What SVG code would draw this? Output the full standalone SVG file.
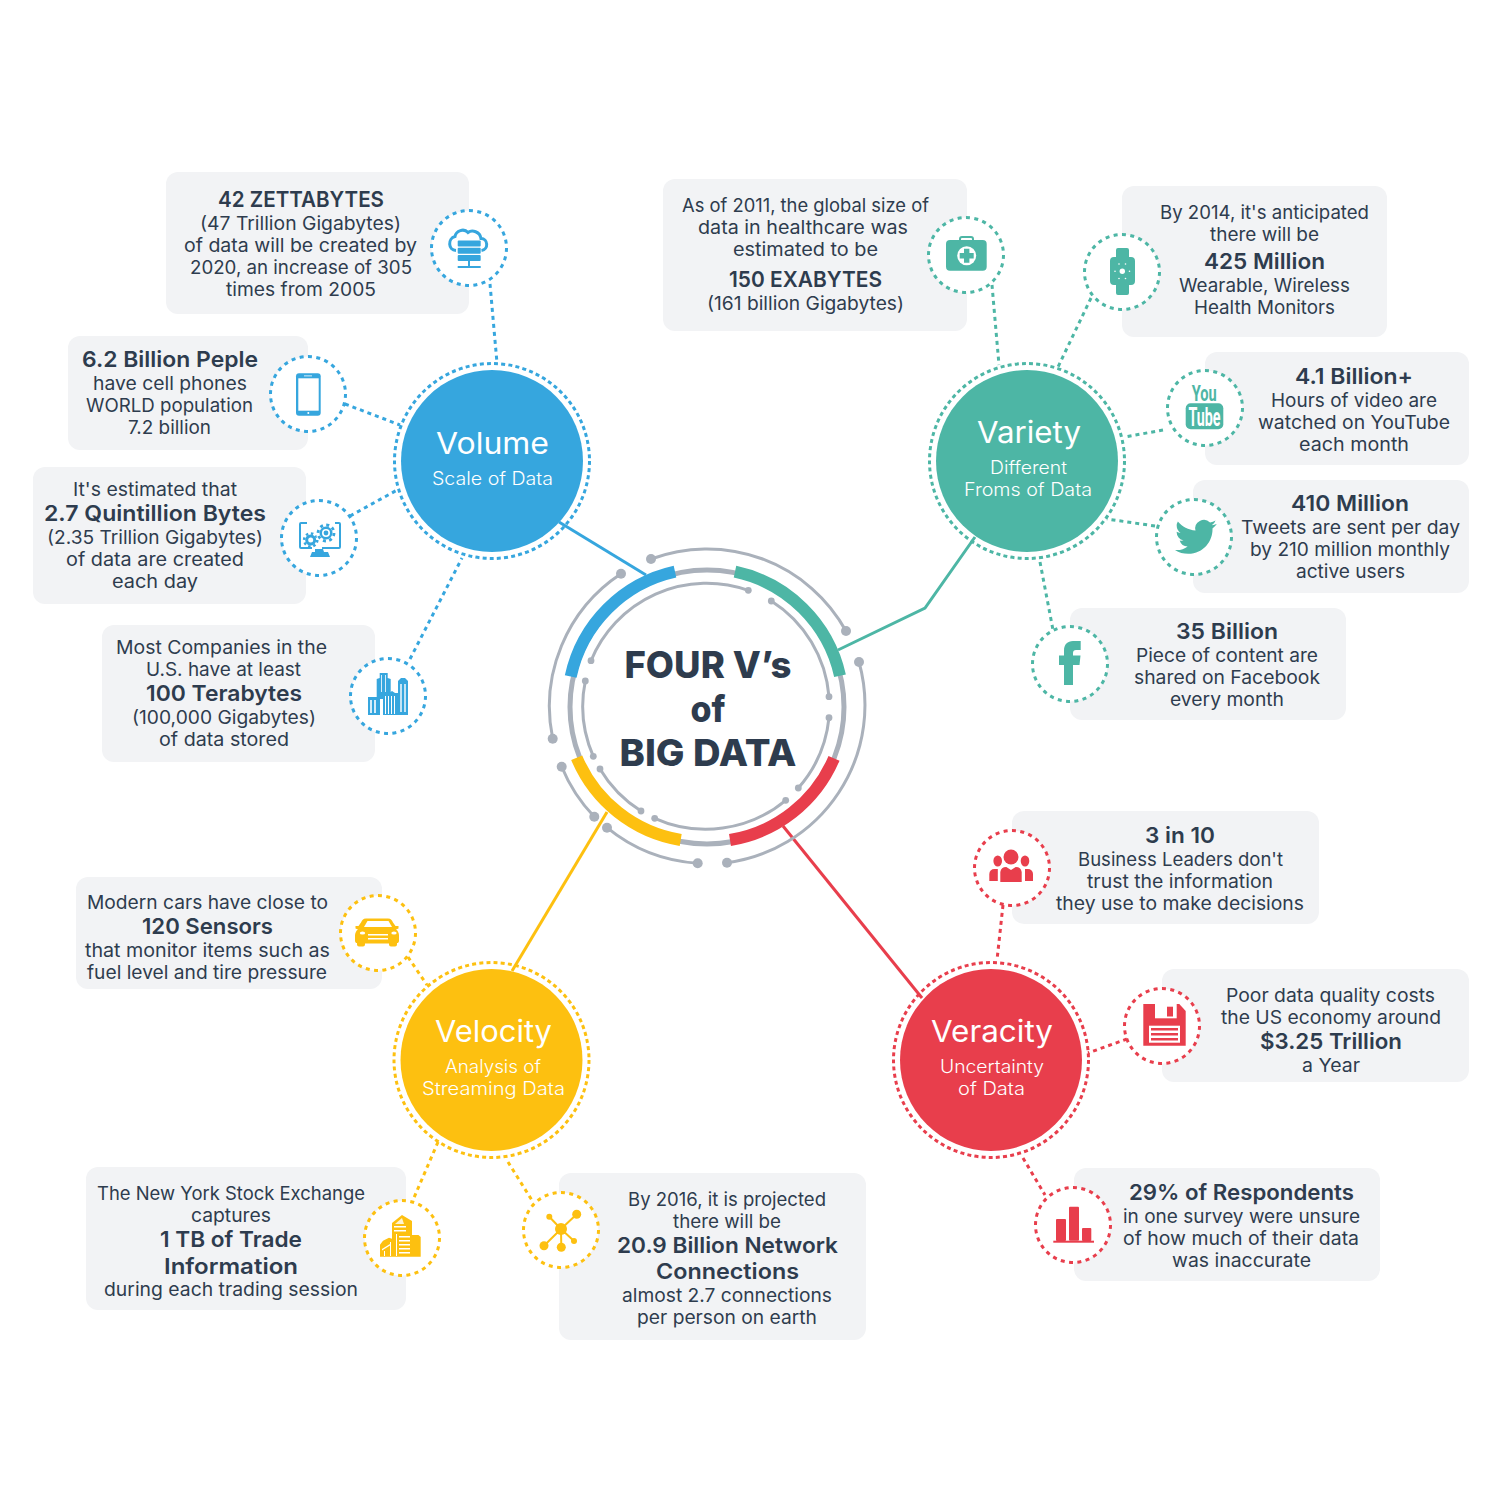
<svg xmlns="http://www.w3.org/2000/svg" width="1501" height="1500" viewBox="0 0 1501 1500">
<style>
text{font-family:"Inter","Noto Sans","Liberation Sans",sans-serif;text-anchor:middle;fill:#2e3c4e;font-size:18.5px}
.b{font-weight:600;font-size:22px}
.t{fill:#fff;font-size:30px;font-weight:400}
.s{fill:#fff;font-size:18px;font-weight:350}
.c{font-size:37px;font-weight:800}
.box{fill:#f2f3f5}
.arc{fill:none;stroke:#aab1bb;stroke-width:3}
.dot{fill:#aab1bb}
.ic{fill:#fff;stroke-width:3;stroke-dasharray:4 4.4}
.rg{fill:none;stroke-width:3;stroke-dasharray:4 3.2}
.dc{stroke-width:3;stroke-dasharray:4 4;fill:none}
.sl{stroke-width:3;fill:none}
.blue{stroke:#36a6de}.teal{stroke:#4db6a5}.yel{stroke:#fdc010}.red{stroke:#e83e4c}
.fb{fill:#36a6de}.ft{fill:#4db6a5}.fy{fill:#fdc010}.fr{fill:#e83e4c}
.w{fill:#fff}
</style>
<g id="connectors">
<path class="sl blue" d="M559 522L646 575"/>
<path class="sl teal" d="M975 537L925 608L838 650"/>
<path class="sl red" d="M783 826L922 998"/>
<path class="sl yel" d="M607 812L512 971"/>
<path class="dc blue" d="M490 284L497 363"/>
<path class="dc blue" d="M345 404L400 425"/>
<path class="dc blue" d="M350 516L399 489"/>
<path class="dc blue" d="M410 659L462 558"/>
<path class="dc teal" d="M992 285L999 365"/>
<path class="dc teal" d="M1091 298L1058 367"/>
<path class="dc teal" d="M1163 430L1125 437"/>
<path class="dc teal" d="M1155 526L1107 519"/>
<path class="dc teal" d="M1040 562L1053 630"/>
<path class="dc yel" d="M408 957L427 985"/>
<path class="dc yel" d="M438 1142L413 1200"/>
<path class="dc yel" d="M508 1162L533 1202"/>
<path class="dc red" d="M1003 905L997 960"/>
<path class="dc red" d="M1127 1039L1088 1053"/>
<path class="dc red" d="M1023 1158L1045 1195"/>
</g>
<g id="center">
<circle cx="707" cy="707" r="137" fill="none" stroke="#aab1bb" stroke-width="5"/>
<path class="arc" d="M651 559A159 159 0 0 1 846 631M859 662A159 159 0 0 1 727 862.7M697.7 863.3A159 159 0 0 1 607 827.7M594.3 816.7A159 159 0 0 1 561.7 766.7M552.7 738.7A159 159 0 0 1 621 573.7M591 660.7A125 125 0 0 1 748.3 590.3M771.3 601A125 125 0 0 1 829 696.7M829 717.7A125 125 0 0 1 798.3 788M785.7 800.3A125 125 0 0 1 654.7 818.3M641 811A125 125 0 0 1 600 769M593.3 756.3A125 125 0 0 1 585.3 681"/>
<g class="dot"><circle cx="651" cy="559" r="5"/><circle cx="846" cy="631" r="5"/><circle cx="859" cy="662" r="5"/><circle cx="727" cy="862.7" r="5"/><circle cx="697.7" cy="863.3" r="5"/><circle cx="607" cy="827.7" r="5"/><circle cx="594.3" cy="816.7" r="5"/><circle cx="561.7" cy="766.7" r="5"/><circle cx="552.7" cy="738.7" r="5"/><circle cx="621" cy="573.7" r="5"/>
<circle cx="591" cy="660.7" r="3.4"/><circle cx="748.3" cy="590.3" r="3.4"/><circle cx="771.3" cy="601" r="3.4"/><circle cx="829" cy="696.7" r="3.4"/><circle cx="829" cy="717.7" r="3.4"/><circle cx="798.3" cy="788" r="3.4"/><circle cx="785.7" cy="800.3" r="3.4"/><circle cx="654.7" cy="818.3" r="3.4"/><circle cx="641" cy="811" r="3.4"/><circle cx="600" cy="769" r="3.4"/><circle cx="593.3" cy="756.3" r="3.4"/><circle cx="585.3" cy="681" r="3.4"/></g>
<g fill="none" stroke-width="12">
<path stroke="#36a6de" d="M570.7 676.5A137 137 0 0 1 675 571.7"/>
<path stroke="#4db6a5" d="M735 571.7A137 137 0 0 1 840 675.7"/>
<path stroke="#e83e4c" d="M834 758.3A137 137 0 0 1 730 840"/>
<path stroke="#fdc010" d="M680.7 840A137 137 0 0 1 576.7 757.7"/>
</g>
<text class="c" x="708" y="678" textLength="167" lengthAdjust="spacingAndGlyphs">FOUR V’s</text>
<text class="c" x="708" y="722" textLength="35" lengthAdjust="spacingAndGlyphs">of</text>
<text class="c" x="708" y="766" textLength="177" lengthAdjust="spacingAndGlyphs">BIG DATA</text>
</g>
<g id="volume">
<circle cx="492" cy="461" r="91" class="fb"/><circle cx="492" cy="461" r="97.500" class="rg blue"/>
<text class="t" x="492.500" y="454" textLength="113" lengthAdjust="spacingAndGlyphs">Volume</text>
<text class="s" x="492.500" y="485" textLength="121" lengthAdjust="spacingAndGlyphs">Scale of Data</text>
</g>
<g id="variety">
<circle cx="1027" cy="461" r="91" class="ft"/><circle cx="1027" cy="461" r="97.500" class="rg teal"/>
<text class="t" x="1029" y="443" textLength="104" lengthAdjust="spacingAndGlyphs">Variety</text>
<text class="s" x="1028.500" y="474" textLength="77" lengthAdjust="spacingAndGlyphs">Different</text>
<text class="s" x="1028" y="496" textLength="128" lengthAdjust="spacingAndGlyphs">Froms of Data</text>
</g>
<g id="velocity">
<circle cx="491.500" cy="1060" r="91" class="fy"/><circle cx="491.500" cy="1060" r="97.500" class="rg yel"/>
<text class="t" x="493.500" y="1042" textLength="117" lengthAdjust="spacingAndGlyphs">Velocity</text>
<text class="s" x="493" y="1073" textLength="96" lengthAdjust="spacingAndGlyphs">Analysis of</text>
<text class="s" x="493.500" y="1095" textLength="143" lengthAdjust="spacingAndGlyphs">Streaming Data</text>
</g>
<g id="veracity">
<circle cx="991" cy="1060" r="91" class="fr"/><circle cx="991" cy="1060" r="97.500" class="rg red"/>
<text class="t" x="992" y="1042" textLength="122" lengthAdjust="spacingAndGlyphs">Veracity</text>
<text class="s" x="992" y="1073" textLength="104" lengthAdjust="spacingAndGlyphs">Uncertainty</text>
<text class="s" x="991.500" y="1095" textLength="67" lengthAdjust="spacingAndGlyphs">of Data</text>
</g>
<g id="n-zettabytes">
<rect class="box" x="166" y="172" width="303" height="142" rx="12"/>
<text class="b" x="301" y="207" textLength="166" lengthAdjust="spacingAndGlyphs">42 ZETTABYTES</text>
<text x="300.500" y="229.500" textLength="201" lengthAdjust="spacingAndGlyphs">(47 Trillion Gigabytes)</text>
<text x="300.500" y="251.500" textLength="233" lengthAdjust="spacingAndGlyphs">of data will be created by</text>
<text x="301" y="273.500" textLength="222" lengthAdjust="spacingAndGlyphs">2020, an increase of 305</text>
<text x="301" y="295.500" textLength="150" lengthAdjust="spacingAndGlyphs">times from 2005</text>
<circle class="ic blue" cx="469" cy="248" r="37.500"/>
<path d="M456 250.500c-8-.5-8.500-12-1-14 1-6 9-8.500 13-4 4-3 12-1 13 6 7 0 8 11 .5 12" fill="none" stroke="#36a6de" stroke-width="3"/>
<g class="fb"><rect x="457.700" y="240.500" width="23" height="6" rx="1"/><rect x="457.700" y="247.800" width="23" height="6" rx="1"/><rect x="457.700" y="255" width="23" height="6" rx="1"/><rect x="468" y="261" width="2" height="5"/><rect x="457.700" y="266" width="23" height="2"/></g>
</g>
<g id="n-phones">
<rect class="box" x="68" y="336" width="240" height="114" rx="12"/>
<text class="b" x="170" y="367" textLength="176" lengthAdjust="spacingAndGlyphs">6.2 Billion Peple</text>
<text x="170" y="389.500" textLength="154" lengthAdjust="spacingAndGlyphs">have cell phones</text>
<text x="169.500" y="411.500" textLength="167" lengthAdjust="spacingAndGlyphs">WORLD population</text>
<text x="169.500" y="433.500" textLength="83" lengthAdjust="spacingAndGlyphs">7.2 billion</text>
<circle class="ic blue" cx="308" cy="394" r="37.500"/>
<rect class="fb" x="296" y="373.300" width="24.700" height="42.400" rx="3"/><rect class="w" x="298.300" y="378.300" width="20.400" height="32.400"/><rect class="w" x="304" y="375.500" width="8" height="0.800"/><circle class="w" cx="308.300" cy="413" r="1"/>
</g>
<g id="n-quintillion">
<rect class="box" x="33" y="467" width="273" height="137" rx="12"/>
<text x="155" y="495.500" textLength="164" lengthAdjust="spacingAndGlyphs">It's estimated that</text>
<text class="b" x="155" y="521" textLength="222" lengthAdjust="spacingAndGlyphs">2.7 Quintillion Bytes</text>
<text x="155" y="543.500" textLength="216" lengthAdjust="spacingAndGlyphs">(2.35 Trillion Gigabytes)</text>
<text x="155" y="565.500" textLength="178" lengthAdjust="spacingAndGlyphs">of data are created</text>
<text x="155" y="587.500" textLength="86" lengthAdjust="spacingAndGlyphs">each day</text>
<circle class="ic blue" cx="319" cy="538" r="37.500"/>
<path d="M307 523h-6a1 1 0 0 0-1 1v23a1 1 0 0 0 1 1h11M335 523h4a1 1 0 0 1 1 1v23a1 1 0 0 1-1 1h-17" fill="none" stroke="#36a6de" stroke-width="2"/>
<path class="fb" d="M315 549h8l1 3h4l2 5h-20l2-5h3z"/>
<circle class="fb" cx="310.700" cy="540" r="5.500"/><circle cx="310.700" cy="540" r="6.600" fill="none" stroke="#36a6de" stroke-width="2.500" stroke-dasharray="2.500 2.680"/><circle class="w" cx="310.700" cy="540" r="2.500"/>
<circle cx="326" cy="533" r="10" class="w"/>
<circle class="fb" cx="326" cy="533" r="6.500"/><circle cx="326" cy="533" r="8" fill="none" stroke="#36a6de" stroke-width="2.800" stroke-dasharray="3 3.280"/><circle class="w" cx="326" cy="533" r="4"/><circle class="fb" cx="326" cy="533" r="2.400"/>
</g>
<g id="n-terabytes">
<rect class="box" x="102" y="625" width="273" height="137" rx="12"/>
<text x="221.500" y="653.500" textLength="211" lengthAdjust="spacingAndGlyphs">Most Companies in the</text>
<text x="223.500" y="675.500" textLength="155" lengthAdjust="spacingAndGlyphs">U.S. have at least</text>
<text class="b" x="224" y="701" textLength="156" lengthAdjust="spacingAndGlyphs">100 Terabytes</text>
<text x="224" y="723.500" textLength="184" lengthAdjust="spacingAndGlyphs">(100,000 Gigabytes)</text>
<text x="224" y="745.500" textLength="130" lengthAdjust="spacingAndGlyphs">of data stored</text>
<circle class="ic blue" cx="388" cy="696" r="37.500"/>
<g class="fb"><path d="M376.700 679l3-1v-5h8v5l3 1v20h-14z"/><path d="M398 681l3-3h4l3 3v34h-10z"/><rect x="368" y="697" width="12" height="18"/><path d="M383 693h6l3-2 3 2h3v22h-15z"/></g>
<g class="w"><rect x="381" y="675" width="0.800" height="17"/><rect x="385" y="675" width="0.800" height="17"/><rect x="385" y="696" width="1" height="18"/><rect x="388" y="696" width="1" height="18"/><rect x="391" y="696" width="1" height="18"/><rect x="394" y="696" width="1" height="18"/><rect x="400" y="684" width="2" height="28" fill-opacity=".7"/><rect x="404" y="684" width="2" height="28" fill-opacity=".7"/><rect x="370" y="700" width="2" height="13" fill-opacity=".8"/><rect x="374" y="700" width="2" height="13" fill-opacity=".8"/></g>
</g>
<g id="n-exabytes">
<rect class="box" x="663" y="179" width="304" height="152" rx="12"/>
<text x="805.500" y="211.500" textLength="247" lengthAdjust="spacingAndGlyphs">As of 2011, the global size of</text>
<text x="803" y="233.500" textLength="210" lengthAdjust="spacingAndGlyphs">data in healthcare was</text>
<text x="805.500" y="255.500" textLength="145" lengthAdjust="spacingAndGlyphs">estimated to be</text>
<text class="b" x="805.500" y="287" textLength="153" lengthAdjust="spacingAndGlyphs">150 EXABYTES</text>
<text x="805.500" y="309.500" textLength="197" lengthAdjust="spacingAndGlyphs">(161 billion Gigabytes)</text>
<circle class="ic teal" cx="966" cy="255" r="37.500"/>
<path d="M960 241v-2a2 2 0 0 1 2-2h9a2 2 0 0 1 2 2v2" fill="none" stroke="#4db6a5" stroke-width="2"/>
<rect class="ft" x="946" y="240" width="40.700" height="30.700" rx="4"/>
<circle class="w" cx="966.700" cy="255.700" r="9.500"/>
<path class="ft" d="M964 248.700h5.400v4.300h4.300v5.400h-4.300v4.300H964v-4.300h-4.300V253H964z"/>
</g>
<g id="n-wearable">
<rect class="box" x="1122" y="186" width="265" height="151" rx="12"/>
<text x="1264.500" y="218.500" textLength="209" lengthAdjust="spacingAndGlyphs">By 2014, it's anticipated</text>
<text x="1264.500" y="240.500" textLength="109" lengthAdjust="spacingAndGlyphs">there will be</text>
<text class="b" x="1264.500" y="269" textLength="121" lengthAdjust="spacingAndGlyphs">425 Million</text>
<text x="1264.500" y="291.500" textLength="171" lengthAdjust="spacingAndGlyphs">Wearable, Wireless</text>
<text x="1264.500" y="313.500" textLength="141" lengthAdjust="spacingAndGlyphs">Health Monitors</text>
<circle class="ic teal" cx="1122" cy="272" r="37.500"/>
<path class="ft" d="M1118 248h9a2 2 0 0 1 2 2v7h2a4 4 0 0 1 4 4v20a4 4 0 0 1-4 4h-2v8a2 2 0 0 1-2 2h-9a2 2 0 0 1-2-2v-8h-2a4 4 0 0 1-4-4v-20a4 4 0 0 1 4-4h2v-7a2 2 0 0 1 2-2z"/>
<g class="w"><circle cx="1122.300" cy="271.300" r="2.700"/><circle cx="1119" cy="264" r=".8"/><circle cx="1125.500" cy="264" r=".8"/><circle cx="1115" cy="271.300" r=".8"/><circle cx="1129.500" cy="271.300" r=".8"/><circle cx="1119" cy="278.500" r=".8"/><circle cx="1125.500" cy="278.500" r=".8"/></g>
</g>
<g id="n-youtube">
<rect class="box" x="1205" y="352" width="264" height="113" rx="12"/>
<text class="b" x="1354" y="384" textLength="118" lengthAdjust="spacingAndGlyphs">4.1 Billion+</text>
<text x="1354" y="406.500" textLength="166" lengthAdjust="spacingAndGlyphs">Hours of video are</text>
<text x="1354" y="428.500" textLength="192" lengthAdjust="spacingAndGlyphs">watched on YouTube</text>
<text x="1354" y="450.500" textLength="110" lengthAdjust="spacingAndGlyphs">each month</text>
<circle class="ic teal" cx="1205" cy="408" r="37.500"/>
<text x="1204.300" y="401" textLength="25" lengthAdjust="spacingAndGlyphs" style="fill:#4db6a5;font-size:22px;font-weight:700;font-family:Roboto,sans-serif">You</text>
<rect class="ft" x="1185.700" y="403.300" width="37.600" height="26" rx="5"/>
<text x="1204.500" y="426" textLength="32" lengthAdjust="spacingAndGlyphs" style="fill:#fff;font-size:25px;font-weight:700;font-family:Roboto,sans-serif">Tube</text>
</g>
<g id="n-twitter">
<rect class="box" x="1193" y="480" width="276" height="113" rx="12"/>
<text class="b" x="1350" y="511" textLength="118" lengthAdjust="spacingAndGlyphs">410 Million</text>
<text x="1350.500" y="533.500" textLength="219" lengthAdjust="spacingAndGlyphs">Tweets are sent per day</text>
<text x="1350" y="555.500" textLength="200" lengthAdjust="spacingAndGlyphs">by 210 million monthly</text>
<text x="1350.500" y="577.500" textLength="109" lengthAdjust="spacingAndGlyphs">active users</text>
<circle class="ic teal" cx="1194" cy="537" r="37.500"/>
<path class="ft" transform="translate(1175 516) scale(1.74)" d="M23.953 4.57a10 10 0 01-2.825.775 4.958 4.958 0 002.163-2.723c-.951.555-2.005.959-3.127 1.184a4.92 4.92 0 00-8.384 4.482C7.69 8.095 4.067 6.13 1.64 3.162a4.822 4.822 0 00-.666 2.475c0 1.71.87 3.213 2.188 4.096a4.904 4.904 0 01-2.228-.616v.06a4.923 4.923 0 003.946 4.827 4.996 4.996 0 01-2.212.085 4.936 4.936 0 004.604 3.417 9.867 9.867 0 01-6.102 2.105c-.39 0-.779-.023-1.17-.067a13.995 13.995 0 007.557 2.209c9.053 0 13.998-7.496 13.998-13.985 0-.21 0-.42-.015-.63A9.935 9.935 0 0024 4.59z"/>
</g>
<g id="n-facebook">
<rect class="box" x="1070" y="608" width="276" height="112" rx="12"/>
<text class="b" x="1227" y="639" textLength="102" lengthAdjust="spacingAndGlyphs">35 Billion</text>
<text x="1227" y="661.500" textLength="182" lengthAdjust="spacingAndGlyphs">Piece of content are</text>
<text x="1227" y="683.500" textLength="186" lengthAdjust="spacingAndGlyphs">shared on Facebook</text>
<text x="1227" y="705.500" textLength="114" lengthAdjust="spacingAndGlyphs">every month</text>
<circle class="ic teal" cx="1070" cy="664" r="37.500"/>
<path class="ft" d="M1064 685v-20h-5v-9.500h5v-5c0-6 3.500-9.500 9-9.500h7.700v9h-4.700c-2 0-3 1-3 3v2.500h7.500l-1 9.500h-6.500v20z"/>
</g>
<g id="n-leaders">
<rect class="box" x="1012" y="811" width="307" height="113" rx="12"/>
<text class="b" x="1180" y="843" textLength="70" lengthAdjust="spacingAndGlyphs">3 in 10</text>
<text x="1180.500" y="865.500" textLength="205" lengthAdjust="spacingAndGlyphs">Business Leaders don't</text>
<text x="1180" y="887.500" textLength="186" lengthAdjust="spacingAndGlyphs">trust the information</text>
<text x="1180" y="909.500" textLength="248" lengthAdjust="spacingAndGlyphs">they use to make decisions</text>
<circle class="ic red" cx="1012" cy="868" r="37.500"/>
<g class="fr"><circle cx="1011" cy="857" r="7.500"/><ellipse cx="997.700" cy="861" rx="4.300" ry="5.500"/><ellipse cx="1025" cy="861" rx="4.300" ry="5.500"/><path d="M1000.300 882v-10a6 6 0 0 1 6-5l4.700 3 4.700-3a6 6 0 0 1 6 5v10z"/><path d="M989.300 881v-7a5 5 0 0 1 5-5h3.500v12z"/><path d="M1033 881v-7a5 5 0 0 0-5-5h-3v12z"/></g>
</g>
<g id="n-quality">
<rect class="box" x="1162" y="969" width="307" height="113" rx="12"/>
<text x="1330.500" y="1001.500" textLength="209" lengthAdjust="spacingAndGlyphs">Poor data quality costs</text>
<text x="1331" y="1023.500" textLength="220" lengthAdjust="spacingAndGlyphs">the US economy around</text>
<text class="b" x="1331" y="1049" textLength="142" lengthAdjust="spacingAndGlyphs">$3.25 Trillion</text>
<text x="1331" y="1071.500" textLength="58" lengthAdjust="spacingAndGlyphs">a Year</text>
<circle class="ic red" cx="1162" cy="1026" r="37.500"/>
<path class="fr" d="M1143.300 1004h36l6.400 7v34.700h-42.400z"/>
<rect class="w" x="1155" y="1004" width="21.700" height="14.300"/><rect class="fr" x="1167" y="1006.700" width="6" height="9.800"/>
<rect class="w" x="1149" y="1025.700" width="31" height="17"/><g class="fr"><rect x="1151" y="1028" width="27" height="2.500"/><rect x="1151" y="1033" width="27" height="2.500"/><rect x="1151" y="1038" width="27" height="2.500"/></g>
</g>
<g id="n-respondents">
<rect class="box" x="1074" y="1168" width="306" height="113" rx="12"/>
<text class="b" x="1241.500" y="1200" textLength="225" lengthAdjust="spacingAndGlyphs">29% of Respondents</text>
<text x="1241.500" y="1222.500" textLength="237" lengthAdjust="spacingAndGlyphs">in one survey were unsure</text>
<text x="1241" y="1244.500" textLength="236" lengthAdjust="spacingAndGlyphs">of how much of their data</text>
<text x="1241.500" y="1266.500" textLength="139" lengthAdjust="spacingAndGlyphs">was inaccurate</text>
<circle class="ic red" cx="1073" cy="1225" r="37.500"/>
<g class="fr"><rect x="1056" y="1219" width="10" height="22" rx="1"/><rect x="1069" y="1206.700" width="10" height="34" rx="1"/><rect x="1082" y="1228" width="9.300" height="13" rx="1"/><rect x="1053.300" y="1240.700" width="40.700" height="2"/></g>
</g>
<g id="n-sensors">
<rect class="box" x="76" y="877" width="306" height="112" rx="12"/>
<text x="207.500" y="908.500" textLength="241" lengthAdjust="spacingAndGlyphs">Modern cars have close to</text>
<text class="b" x="207.500" y="934" textLength="131" lengthAdjust="spacingAndGlyphs">120 Sensors</text>
<text x="207.500" y="956.500" textLength="245" lengthAdjust="spacingAndGlyphs">that monitor items such as</text>
<text x="207" y="978.500" textLength="240" lengthAdjust="spacingAndGlyphs">fuel level and tire pressure</text>
<circle class="ic yel" cx="378" cy="933" r="37.500"/>
<path class="fy" d="M368 918.500h20c3 0 4 2 5 4l2.500 3.500h3v2.500l-2.500 1c2 1 3 4 3 6v5c0 2-1 2.500-2 2.500v1.500a2 2 0 0 1-2 2h-4a2 2 0 0 1-2-2v-1h-24v1a2 2 0 0 1-2 2h-4a2 2 0 0 1-2-2v-1.500c-1 0-2-.5-2-2.500v-5c0-2 1-5 3-6l-2.500-1v-2.500h3l2.500-3.500c1-2 2-4 5-4z"/>
<path class="w" d="M367.500 921h21l3.500 6h-28z"/><rect class="w" x="368" y="934" width="20" height="1.500"/><rect class="w" x="368" y="938" width="20" height="1.500"/><ellipse class="w" cx="362.500" cy="933" rx="2.700" ry="1.500"/><ellipse class="w" cx="394" cy="933" rx="2.700" ry="1.500"/>
</g>
<g id="n-stock">
<rect class="box" x="86" y="1167" width="320" height="143" rx="12"/>
<text x="231" y="1199.500" textLength="268" lengthAdjust="spacingAndGlyphs">The New York Stock Exchange</text>
<text x="231" y="1221.500" textLength="80" lengthAdjust="spacingAndGlyphs">captures</text>
<text class="b" x="231" y="1247" textLength="142" lengthAdjust="spacingAndGlyphs">1 TB of Trade</text>
<text class="b" x="231" y="1274" textLength="134" lengthAdjust="spacingAndGlyphs">Information</text>
<text x="231" y="1295.500" textLength="254" lengthAdjust="spacingAndGlyphs">during each trading session</text>
<circle class="ic yel" cx="402" cy="1238" r="37.500"/>
<path class="fy" d="M392 1223l10-8 10 6v14h6.500l2.200 2v19.700H380v-12l3-4 6-3 3 1z"/>
<g class="w"><path d="M395 1224l7-6 2 6z" fill-opacity=".8"/><rect x="394" y="1226" width="12" height="1.500"/><rect x="394" y="1230" width="12" height="1.500"/><rect x="399" y="1236" width="11" height="1.500"/><rect x="399" y="1240" width="11" height="1.500"/><rect x="399" y="1244" width="11" height="1.500"/><rect x="399" y="1248" width="11" height="1.500"/><rect x="399" y="1252" width="11" height="1.500"/><rect x="396" y="1234" width="1" height="22"/><rect x="390" y="1242" width="1" height="14"/><path d="M382 1249l8-5v1.500l-8 5z"/><rect x="384" y="1251" width="1" height="5"/></g>
</g>
<g id="n-network">
<rect class="box" x="559" y="1173" width="307" height="167" rx="12"/>
<text x="727" y="1205.500" textLength="198" lengthAdjust="spacingAndGlyphs">By 2016, it is projected</text>
<text x="727" y="1227.500" textLength="108" lengthAdjust="spacingAndGlyphs">there will be</text>
<text class="b" x="727.500" y="1253" textLength="221" lengthAdjust="spacingAndGlyphs">20.9 Billion Network</text>
<text class="b" x="727.500" y="1279" textLength="143" lengthAdjust="spacingAndGlyphs">Connections</text>
<text x="727" y="1301.500" textLength="210" lengthAdjust="spacingAndGlyphs">almost 2.7 connections</text>
<text x="727" y="1323.500" textLength="180" lengthAdjust="spacingAndGlyphs">per person on earth</text>
<circle class="ic yel" cx="561" cy="1230" r="37.500"/>
<path d="M561 1229L576.700 1214.300M561 1229L549.300 1216.700M561 1229L574 1241M561 1229L561.300 1247.300M561 1229L544 1245.700" stroke="#fdc010" stroke-width="2" fill="none"/>
<g class="fy"><circle cx="561" cy="1229" r="6"/><circle cx="576.700" cy="1214.300" r="4.500"/><circle cx="549.300" cy="1216.700" r="3"/><circle cx="574" cy="1241" r="3"/><circle cx="561.300" cy="1247.300" r="4.500"/><circle cx="544" cy="1245.700" r="4.500"/></g>
</g>
</svg>
